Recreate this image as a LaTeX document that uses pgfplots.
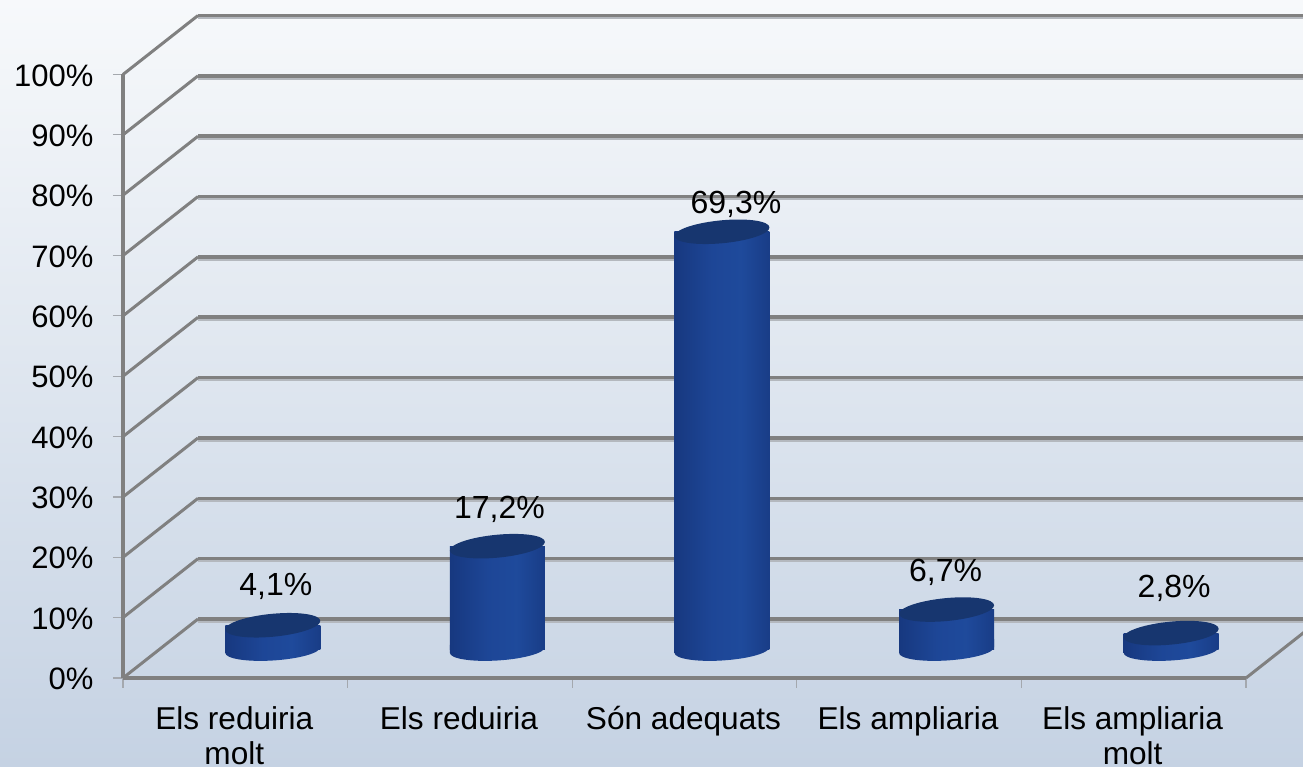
\documentclass[border=0pt]{standalone}
\usepackage{fontspec}
\setmainfont{Liberation Sans}
\usepackage{pgfplots}
\usepackage{pgfplotstable}
\pgfplotsset{compat=1.18}
\definecolor{axgray}{HTML}{808080}
\definecolor{shadowgray}{HTML}{B4B8BE}
\definecolor{tickgray}{HTML}{A4A8AE}
\definecolor{cyltopc}{HTML}{17366F}
\pgfdeclarehorizontalshading{barcyl}{100bp}{
  rgb(0bp)=(0.04,0.11,0.28);
  rgb(8bp)=(0.06,0.15,0.36);
  rgb(25bp)=(0.09,0.22,0.50);
  rgb(45bp)=(0.115,0.275,0.59);
  rgb(60bp)=(0.12,0.29,0.61);
  rgb(80bp)=(0.09,0.22,0.50);
  rgb(92bp)=(0.06,0.16,0.38);
  rgb(100bp)=(0.04,0.11,0.28)}
\pgfdeclareplotmark{cyltop}{%
  \pgftransformcm{1}{0.09}{0}{1}{\pgfpointorigin}%
  \pgfpathellipse{\pgfpointorigin}{\pgfqpoint{47.5pt}{0pt}}{\pgfqpoint{0pt}{11.5pt}}%
  \pgfusepathqfill}
\pgfdeclareplotmark{cylbot}{%
  \pgftransformcm{1}{0.06}{0}{1}{\pgfpointorigin}%
  \pgfpathmoveto{\pgfqpoint{-47.5pt}{8pt}}%
  \pgfpathlineto{\pgfqpoint{-47.5pt}{0pt}}%
  \pgfpatharc{180}{360}{47.5pt and 10.5pt}%
  \pgfpathlineto{\pgfqpoint{47.5pt}{8pt}}%
  \pgfpathclose
  \pgfshadepath{barcyl}{0}%
  \pgfusepath{discard}}
\pgfplotstableread{
x   v
0.5 4.1
1.5 17.2
2.5 69.3
3.5 6.7
4.5 2.8
}\bars
\pgfplotsset{
  body/.style={ybar, bar width=95pt, bar shift=0pt, draw=none, shading=barcyl},
  lab/.style 2 args={only marks, mark=cyltop, mark options={draw=none, fill=cyltopc, color=cyltopc},
  point meta=y,
  nodes near coords={\pgfmathprintnumber[use comma,fixed,fixed zerofill,precision=1]{\pgfplotspointmeta}\%},
  nodes near coords style={font=\fontsize{32}{38}\selectfont, text=black, anchor=south, xshift=#1pt, yshift=#2pt}}}
\begin{document}
\begin{tikzpicture}
\fontsize{31}{37}\selectfont
\path[use as bounding box] (-123pt,-89pt) rectangle (1180pt,678pt);
\clip (-123pt,-89pt) rectangle (1180pt,678pt);
\shade[top color={rgb,255:red,247;green,249;blue,251}, bottom color={rgb,255:red,197;green,210;blue,227}]
  (-123pt,-89pt) rectangle (1180pt,678pt);
\begin{axis}[
  at={(0pt,0pt)}, anchor=south west,
  scale only axis, width=1123pt, height=603.5pt,
  xmin=0, xmax=5, ymin=0, ymax=100, clip=false,
  axis line style={draw=none},
  axis x line*=bottom, axis y line*=left,
  ytick={0,10,...,100},
  yticklabel={\pgfmathprintnumber{\tick}\%},
  /pgf/number format/assume math mode=true,
  tick style={draw=tickgray, line width=1.2pt},
  y tick label style={font=\fontsize{31}{37}\selectfont, anchor=east, xshift=-9pt, yshift=-1pt},
  tick align=outside,
  major tick length=10pt,
  xtick={0,1,2,3,4,5},
  xticklabels={},
  extra x ticks={0.5,1.5,2.5,3.5,4.5},
  extra x tick labels={{Els reduiria\\[-1.5pt]molt},{Els reduiria},{Són adequats},{Els ampliaria},{Els ampliaria\\[-1.5pt]molt}},
  extra x tick style={major tick length=0pt, tick style={draw=none},
    xticklabel style={font=\fontsize{31.6}{37}\selectfont, align=center, anchor=north, yshift=-18pt, xshift=-1pt}},
]
% walls and floor: shadow first
\pgfplotsinvokeforeach{0,10,...,100}{
  \draw[shadowgray, line width=2pt] (axis cs:0.334,#1+9.776-0.45) -- (axis cs:5.334,#1+9.776-0.45);
  \draw[axgray, line width=3.5pt] (axis cs:0.334,#1+9.776) -- (axis cs:5.334,#1+9.776);
  \draw[axgray, line width=3pt] (axis cs:0,#1) -- (axis cs:0.334,#1+9.776);
}
\draw[axgray, line width=3pt] (axis cs:5,0) -- (axis cs:5.334,9.776);
\draw[axgray, line width=4.5pt] (axis cs:0,0) -- (axis cs:0,100);
\draw[axgray, line width=4.5pt] (axis cs:0,0) -- (axis cs:5,0);
\end{axis}
\begin{axis}[
  at={(37.5pt,28pt)}, anchor=south west,
  scale only axis, width=1123pt, height=603.5pt,
  xmin=0, xmax=5, ymin=0, ymax=100, clip=false,
  hide axis,
  /pgf/number format/assume math mode=true,
]
\addplot[only marks, mark=cylbot] table[x=x, y expr=0] {\bars};
\addplot[body] coordinates {(0.5,4.1)};
\addplot[body] coordinates {(1.5,17.2)};
\addplot[body] coordinates {(2.5,69.3)};
\addplot[body] coordinates {(3.5,6.7)};
\addplot[body] coordinates {(4.5,2.8)};
\addplot[lab={3}{15}] coordinates {(0.5,4.1)};
\addplot[lab={2}{13}] coordinates {(1.5,17.2)};
\addplot[lab={14}{4}] coordinates {(2.5,69.3)};
\addplot[lab={-1}{13}] coordinates {(3.5,6.7)};
\addplot[lab={3}{21}] coordinates {(4.5,2.8)};
\end{axis}
\end{tikzpicture}
\end{document}
